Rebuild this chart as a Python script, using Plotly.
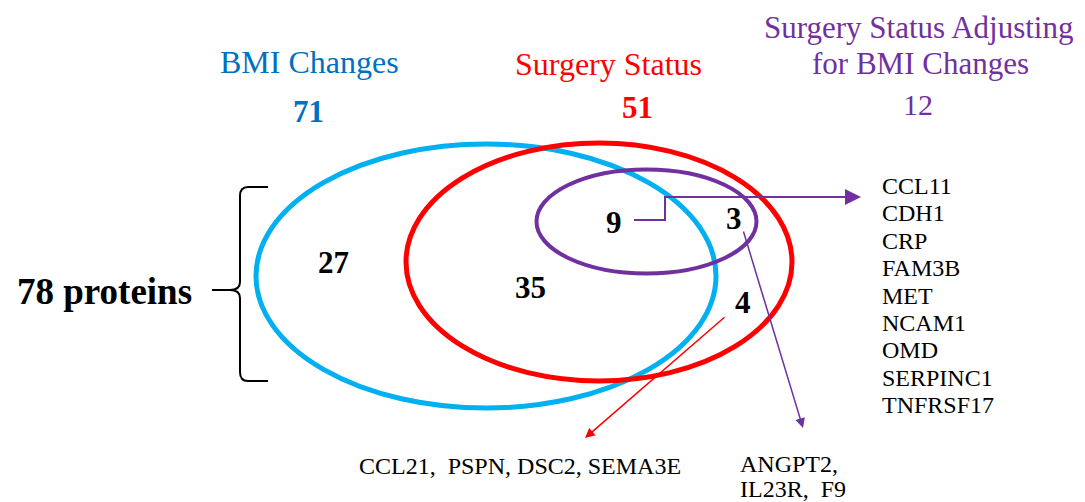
import plotly.graph_objects as go

# ---- data ----
set_names = ["BMI Changes", "Surgery Status", "Surgery Status Adjusting", "for BMI Changes"]
set_totals = [71, 51, 12]
region_counts = {"bmi_only": 27, "bmi_surg": 35, "all_three": 9, "surg_adj_only": 3, "surg_only": 4}
total_label = "78 proteins"
list_all_three = ["CCL11", "CDH1", "CRP", "FAM3B", "MET", "NCAM1", "OMD", "SERPINC1", "TNFRSF17"]
list_surg_only = ["CCL21,  PSPN", "DSC2", "SEMA3E"]
list_surg_adj_only = ["ANGPT2,", "IL23R,  F9"]

BLUE_LINE = "#00b0f0"
BLUE_TXT = "#0070c0"
RED = "#ff0000"
PURPLE = "#7030a0"
FONT = "Liberation Serif, Times New Roman, serif"

# page body has an 8px margin; figure sized to fit the window, ranges shifted so data coords = screen px
OFF = 8
W, H = 1085, 502

fig = go.Figure()
fig.add_trace(go.Scatter(x=[OFF, W], y=[OFF, H], mode="markers", marker=dict(opacity=0), hoverinfo="skip", showlegend=False))

def ellipse(cx, cy, rx, ry, color, w):
    fig.add_shape(type="circle", xref="x", yref="y", x0=cx - rx, x1=cx + rx, y0=cy - ry, y1=cy + ry,
                  line=dict(color=color, width=w))

ellipse(486, 276, 230, 132, BLUE_LINE, 5)
ellipse(599, 262, 193, 119, RED, 5)
ellipse(646.5, 221.5, 110, 52, PURPLE, 4)

# brace
fig.add_shape(type="path", xref="x", yref="y",
              path="M 268 187 L 248 187 Q 240 187 240 196 L 240 282 Q 240 290 230 290 L 212 290 "
                   "M 230 290 Q 240 290 240 298 L 240 372 Q 240 381 248 381 L 268 381",
              line=dict(color="black", width=2))

def txt(x, y, s, size, color="black", bold=False, xanchor="center"):
    if bold:
        s = "<b>" + s + "</b>"
    fig.add_annotation(x=x, y=y, xref="x", yref="y", text=s, showarrow=False,
                       font=dict(family=FONT, size=size, color=color), xanchor=xanchor, yanchor="middle")

# titles
txt(309, 62, set_names[0], 32, BLUE_TXT)
txt(308, 111, str(set_totals[0]), 31, BLUE_TXT, bold=True)
txt(608, 64, set_names[1], 32, RED)
txt(637, 107, str(set_totals[1]), 31, RED, bold=True)
txt(918, 27, set_names[2], 31, PURPLE)
txt(920, 63, set_names[3], 31, PURPLE)
txt(918, 104, str(set_totals[2]), 30, PURPLE)

txt(104, 291, total_label, 37, bold=True)

txt(333, 262, str(region_counts["bmi_only"]), 31, bold=True)
txt(530, 287, str(region_counts["bmi_surg"]), 31, bold=True)
txt(614, 222, str(region_counts["all_three"]), 31, bold=True)
txt(734, 218, str(region_counts["surg_adj_only"]), 31, bold=True)
txt(743, 302, str(region_counts["surg_only"]), 31, bold=True)

# connectors
fig.add_shape(type="path", xref="x", yref="y", path="M 634 220 L 665 220 L 665 197 L 845 197",
              line=dict(color=PURPLE, width=2))
fig.add_annotation(x=861, y=197, ax=845, ay=197, xref="x", yref="y", axref="x", ayref="y", text="",
                   showarrow=True, arrowhead=2, arrowsize=1.6, arrowwidth=2, arrowcolor=PURPLE)
fig.add_annotation(x=803, y=428, ax=743, ay=230, xref="x", yref="y", axref="x", ayref="y", text="",
                   showarrow=True, arrowhead=2, arrowsize=1.3, arrowwidth=1.5, arrowcolor=PURPLE)
fig.add_annotation(x=585, y=438, ax=726, ay=316, xref="x", yref="y", axref="x", ayref="y", text="",
                   showarrow=True, arrowhead=2, arrowsize=1.3, arrowwidth=1.5, arrowcolor=RED)

# lists
for i, name in enumerate(list_all_three):
    txt(880, 186 + i * 27.4, name, 24, xanchor="left")
txt(357, 466, ", ".join(list_surg_only), 24, xanchor="left")
for i, name in enumerate(list_surg_adj_only):
    txt(738, 464 + i * 25, name, 24, xanchor="left")

fig.update_layout(width=W - OFF, height=H - OFF, margin=dict(l=0, r=0, t=0, b=0),
                  plot_bgcolor="white", paper_bgcolor="white",
                  xaxis=dict(range=[OFF, W], visible=False, fixedrange=True),
                  yaxis=dict(range=[H, OFF], visible=False, fixedrange=True),
                  showlegend=False)
fig.write_html("out.html")
